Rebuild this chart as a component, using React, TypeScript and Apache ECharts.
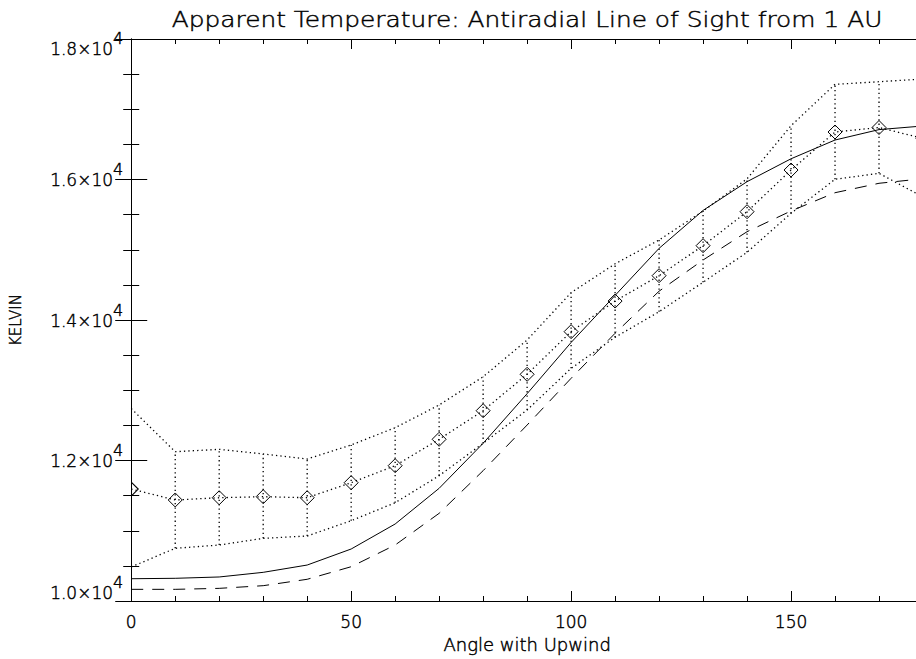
import React, { useEffect, useRef } from "react";
import * as echarts from "echarts";

// Angle with upwind (degrees)
const angles = [0, 10, 20, 30, 40, 50, 60, 70, 80, 90, 100, 110, 120, 130, 140, 150, 160, 170, 180];
// Observed apparent temperature (diamonds) and its envelope
const meanTemp = [11594, 11438, 11470, 11485, 11470, 11684, 11926, 12302, 12709, 13227, 13834, 14270, 14631, 15058, 15542, 16135, 16676, 16740, 16584];
const upperTemp = [12740, 12125, 12159, 12093, 12021, 12221, 12467, 12790, 13192, 13715, 14389, 14800, 15139, 15550, 16010, 16766, 17355, 17392, 17430];
const lowerTemp = [10485, 10750, 10797, 10892, 10925, 11143, 11399, 11784, 12245, 12719, 13312, 13754, 14118, 14537, 14964, 15519, 16003, 16088, 15751];
// Model curves
const modelSolid = [10317, 10323, 10342, 10408, 10512, 10740, 11096, 11604, 12245, 12951, 13680, 14350, 15020, 15560, 15969, 16295, 16562, 16710, 16762];
const modelDashed = [10166, 10166, 10180, 10218, 10309, 10488, 10797, 11248, 11855, 12505, 13170, 13811, 14410, 14854, 15257, 15552, 15812, 15946, 16011];

const xMin = 0;
const xMax = 180;
const yMin = 10000;
const yMax = 18000;

const FONT = "'DejaVu Sans', sans-serif";
const WEIGHT = 300;
const INK = "#000";
const EDGE = 0.45; // slight stroke to give the thin font an ink-like weight

export default function App() {
  const ref = useRef<HTMLDivElement>(null);

  useEffect(() => {
    if (!ref.current) return;
    const chart = echarts.init(ref.current, undefined, { renderer: "svg" });

    const pairs = (ys: number[]) => angles.map((a, i) => [a, ys[i]]);
    const bars = angles.map((a, i) => [a, lowerTemp[i], upperTemp[i]]);
    // mean points: the one sitting on the left frame is clipped to its right half
    const meanData = angles.map((a, i) =>
      a === xMin
        ? { value: [a, meanTemp[i]], symbol: "path://M0 0L1 1L0 2", symbolSize: [7, 14], symbolOffset: [3.5, 0] }
        : { value: [a, meanTemp[i]] }
    );

    const hiddenLabel = { show: false };
    const noSplit = { show: false };
    const axisLine = { show: true, lineStyle: { color: INK, width: 1 } };
    const ink = { color: INK, fontFamily: FONT, fontWeight: WEIGHT, textBorderColor: INK, textBorderWidth: EDGE };

    const yLabelFormatter = (v: number) => {
      const mant = (v / 10000).toFixed(1);
      if (v === yMin) return `{mb|${mant}×10}{eb|4}`;
      if (v === yMax) return `{mt|${mant}×10}{et|4}`;
      return `{m|${mant}×10}{e|4}`;
    };
    const tok = (size: number, pad: number[]) => ({
      fontSize: size,
      lineHeight: size,
      padding: pad,
      ...ink,
    });
    const rich = {
      m: tok(17, [10, 0, 9, 0]),
      e: tok(16, [0, 0, 20, 0]),
      mb: tok(17, [10, 0, 27, 0]),
      eb: tok(16, [0, 0, 38, 0]),
      mt: tok(17, [28, 0, 9, 0]),
      et: tok(16, [18, 0, 20, 0]),
    };

    const dotted = [1.3, 3.1];

    chart.setOption({
      animation: false,
      backgroundColor: "#fff",
      textStyle: { fontFamily: FONT, fontWeight: WEIGHT },
      grid: { left: 131, top: 39, width: 792, height: 562, containLabel: false },
      graphic: [
        {
          type: "text",
          x: 527,
          y: 20,
          scaleX: 1.13,
          style: {
            text: "Apparent Temperature: Antiradial Line of Sight from 1 AU",
            fontSize: 22,
            fontFamily: FONT,
            fontWeight: WEIGHT,
            fill: INK,
            stroke: INK,
            lineWidth: EDGE,
            align: "center",
            verticalAlign: "middle",
          },
        },
      ],
      xAxis: [
        {
          type: "value",
          position: "bottom",
          min: xMin,
          max: xMax,
          interval: 50,
          name: "Angle with Upwind",
          nameLocation: "middle",
          nameGap: 33,
          nameTextStyle: { fontSize: 18, ...ink },
          axisLine,
          axisTick: { show: true, inside: true, length: 10, lineStyle: { color: INK, width: 1 } },
          axisLabel: { show: true, margin: 12, fontSize: 17, ...ink, showMaxLabel: false },
          splitLine: noSplit,
        },
        {
          type: "value",
          position: "bottom",
          min: xMin,
          max: xMax,
          interval: 10,
          axisLine: { show: false },
          axisTick: { show: true, inside: true, length: 5, lineStyle: { color: INK, width: 1 } },
          axisLabel: hiddenLabel,
          splitLine: noSplit,
        },
        {
          type: "value",
          position: "top",
          min: xMin,
          max: xMax,
          interval: 50,
          axisLine,
          axisTick: { show: true, inside: true, length: 10, lineStyle: { color: INK, width: 1 } },
          axisLabel: hiddenLabel,
          splitLine: noSplit,
        },
        {
          type: "value",
          position: "top",
          min: xMin,
          max: xMax,
          interval: 10,
          axisLine: { show: false },
          axisTick: { show: true, inside: true, length: 5, lineStyle: { color: INK, width: 1 } },
          axisLabel: hiddenLabel,
          splitLine: noSplit,
        },
      ],
      yAxis: [
        {
          type: "value",
          position: "left",
          min: yMin,
          max: yMax,
          interval: 2000,
          name: "KELVIN",
          nameLocation: "middle",
          nameGap: 108,
          nameTextStyle: { fontSize: 15, ...ink },
          axisLine,
          axisTick: { show: true, inside: true, length: 16, lineStyle: { color: INK, width: 1 } },
          minorTick: { show: true, splitNumber: 4, length: 8, lineStyle: { color: INK, width: 1 } },
          axisLabel: { show: true, margin: 8, formatter: yLabelFormatter, rich },
          splitLine: noSplit,
          minorSplitLine: { show: false },
        },
        {
          type: "value",
          position: "right",
          min: yMin,
          max: yMax,
          interval: 2000,
          axisLine,
          axisTick: { show: true, inside: true, length: 16, lineStyle: { color: INK, width: 1 } },
          minorTick: { show: true, splitNumber: 4, length: 8, lineStyle: { color: INK, width: 1 } },
          axisLabel: hiddenLabel,
          splitLine: noSplit,
          minorSplitLine: { show: false },
        },
      ],
      series: [
        {
          name: "error bars",
          type: "custom",
          xAxisIndex: 0,
          yAxisIndex: 0,
          clip: true,
          silent: true,
          data: bars,
          encode: { x: 0, y: [1, 2] },
          renderItem: (params: any, api: any) => {
            const x = api.value(0);
            const p1 = api.coord([x, api.value(1)]);
            const p2 = api.coord([x, api.value(2)]);
            return {
              type: "line",
              shape: { x1: p1[0], y1: p1[1], x2: p2[0], y2: p2[1] },
              style: { stroke: INK, lineWidth: 1.3, lineDash: dotted, fill: null },
            };
          },
        },
        {
          name: "upper",
          type: "line",
          xAxisIndex: 0,
          yAxisIndex: 0,
          data: pairs(upperTemp),
          showSymbol: false,
          symbol: "none",
          silent: true,
          clip: true,
          lineStyle: { color: INK, width: 1.3, type: dotted },
        },
        {
          name: "lower",
          type: "line",
          xAxisIndex: 0,
          yAxisIndex: 0,
          data: pairs(lowerTemp),
          showSymbol: false,
          symbol: "none",
          silent: true,
          clip: true,
          lineStyle: { color: INK, width: 1.3, type: dotted },
        },
        {
          name: "mean",
          type: "line",
          xAxisIndex: 0,
          yAxisIndex: 0,
          data: meanData,
          symbol: "diamond",
          symbolSize: [14, 14],
          showSymbol: true,
          silent: true,
          clip: true,
          itemStyle: { color: "rgba(255,255,255,0)", borderColor: INK, borderWidth: 1 },
          lineStyle: { color: INK, width: 1.3, type: dotted },
        },
        {
          name: "model solid",
          type: "line",
          xAxisIndex: 0,
          yAxisIndex: 0,
          data: pairs(modelSolid),
          showSymbol: false,
          symbol: "none",
          silent: true,
          clip: true,
          lineStyle: { color: INK, width: 1, type: "solid" },
        },
        {
          name: "model dashed",
          type: "line",
          xAxisIndex: 0,
          yAxisIndex: 0,
          data: pairs(modelDashed),
          showSymbol: false,
          symbol: "none",
          silent: true,
          clip: true,
          lineStyle: { color: INK, width: 1, type: [12, 9] },
        },
      ],
    });

    return () => chart.dispose();
  }, []);

  return (
    <div
      ref={ref}
      style={{ position: "fixed", left: 0, top: 0, width: 940, height: 659, background: "#fff" }}
    />
  );
}
